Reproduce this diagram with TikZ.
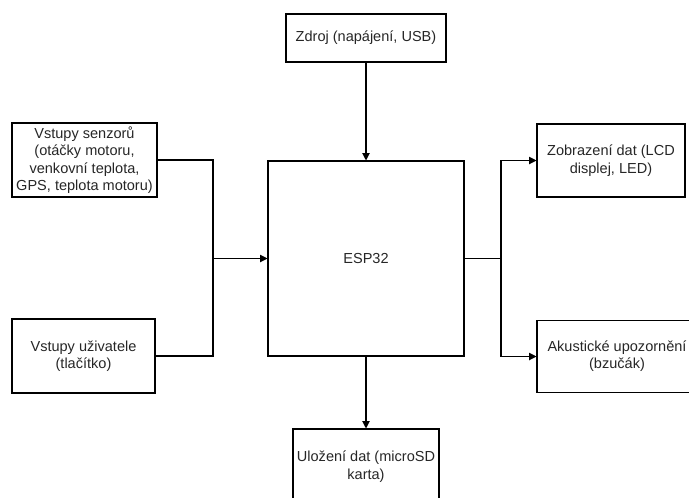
\documentclass[tikz,border=0pt]{standalone}
\usepackage{fontspec}
\setmainfont{Liberation Sans}
\usetikzlibrary{arrows.meta}
\tikzset{
  box/.style={draw=black, line width=0.8pt, inner sep=0pt, align=center,
    text=black!85, font=\fontsize{10.9}{13.1}\selectfont},
  arr/.style={line width=0.8pt, -{Triangle[length=5.5pt,width=5.5pt]}},
  ln/.style={line width=0.8pt}
}
\begin{document}
\begin{tikzpicture}[x=0.75pt,y=-0.75pt]
\useasboundingbox (0,0) rectangle (689,497);
\clip (0,0) rectangle (689,497);
\node[box, minimum width={160*0.75pt}, minimum height={48*0.75pt}] (src) at (366,38) {Zdroj (napájení, USB)};
\node[box, minimum width={196*0.75pt}, minimum height={195*0.75pt}] (esp) at (366,258.5) {ESP32};
\node[box, minimum width={145*0.75pt}, minimum height={74*0.75pt}] (sens) at (84.5,160) {Vstupy senzorů\\(otáčky motoru,\\venkovní teplota,\\GPS, teplota motoru)};
\node[box, minimum width={143*0.75pt}, minimum height={74*0.75pt}] (user) at (83.5,356) {Vstupy uživatele\\(tlačítko)};
\node[box, minimum width={148*0.75pt}, minimum height={73*0.75pt}] (disp) at (611,160.5) {Zobrazení dat (LCD\\displej, LED)};
\node[box, minimum width={200*0.75pt}, minimum height={72*0.75pt}] (buzz) at (637,356.5) {\begin{tabular}{@{}c@{}}Akustické upozornění\\(bzučák)\end{tabular}\hspace*{30pt}};
\node[box, minimum width={146*0.75pt}, minimum height={75*0.75pt}] (sd) at (366,466.5) {Uložení dat (microSD\\karta)};
\coordinate (jl) at (213,258.5);
\coordinate (jr) at (501,258.5);
\draw[arr] (src.south) -- (esp.north);
\draw[arr] (esp.south) -- (sd.north);
\draw[ln] (sens.east) -| (jl);
\draw[ln] (user.east) -| (jl);
\draw[arr] (jl) -- (esp.west);
\draw[ln] (esp.east) -- (jr);
\draw[arr] (jr) |- (disp.west);
\draw[arr] (jr) |- (buzz.west);
\end{tikzpicture}
\end{document}
